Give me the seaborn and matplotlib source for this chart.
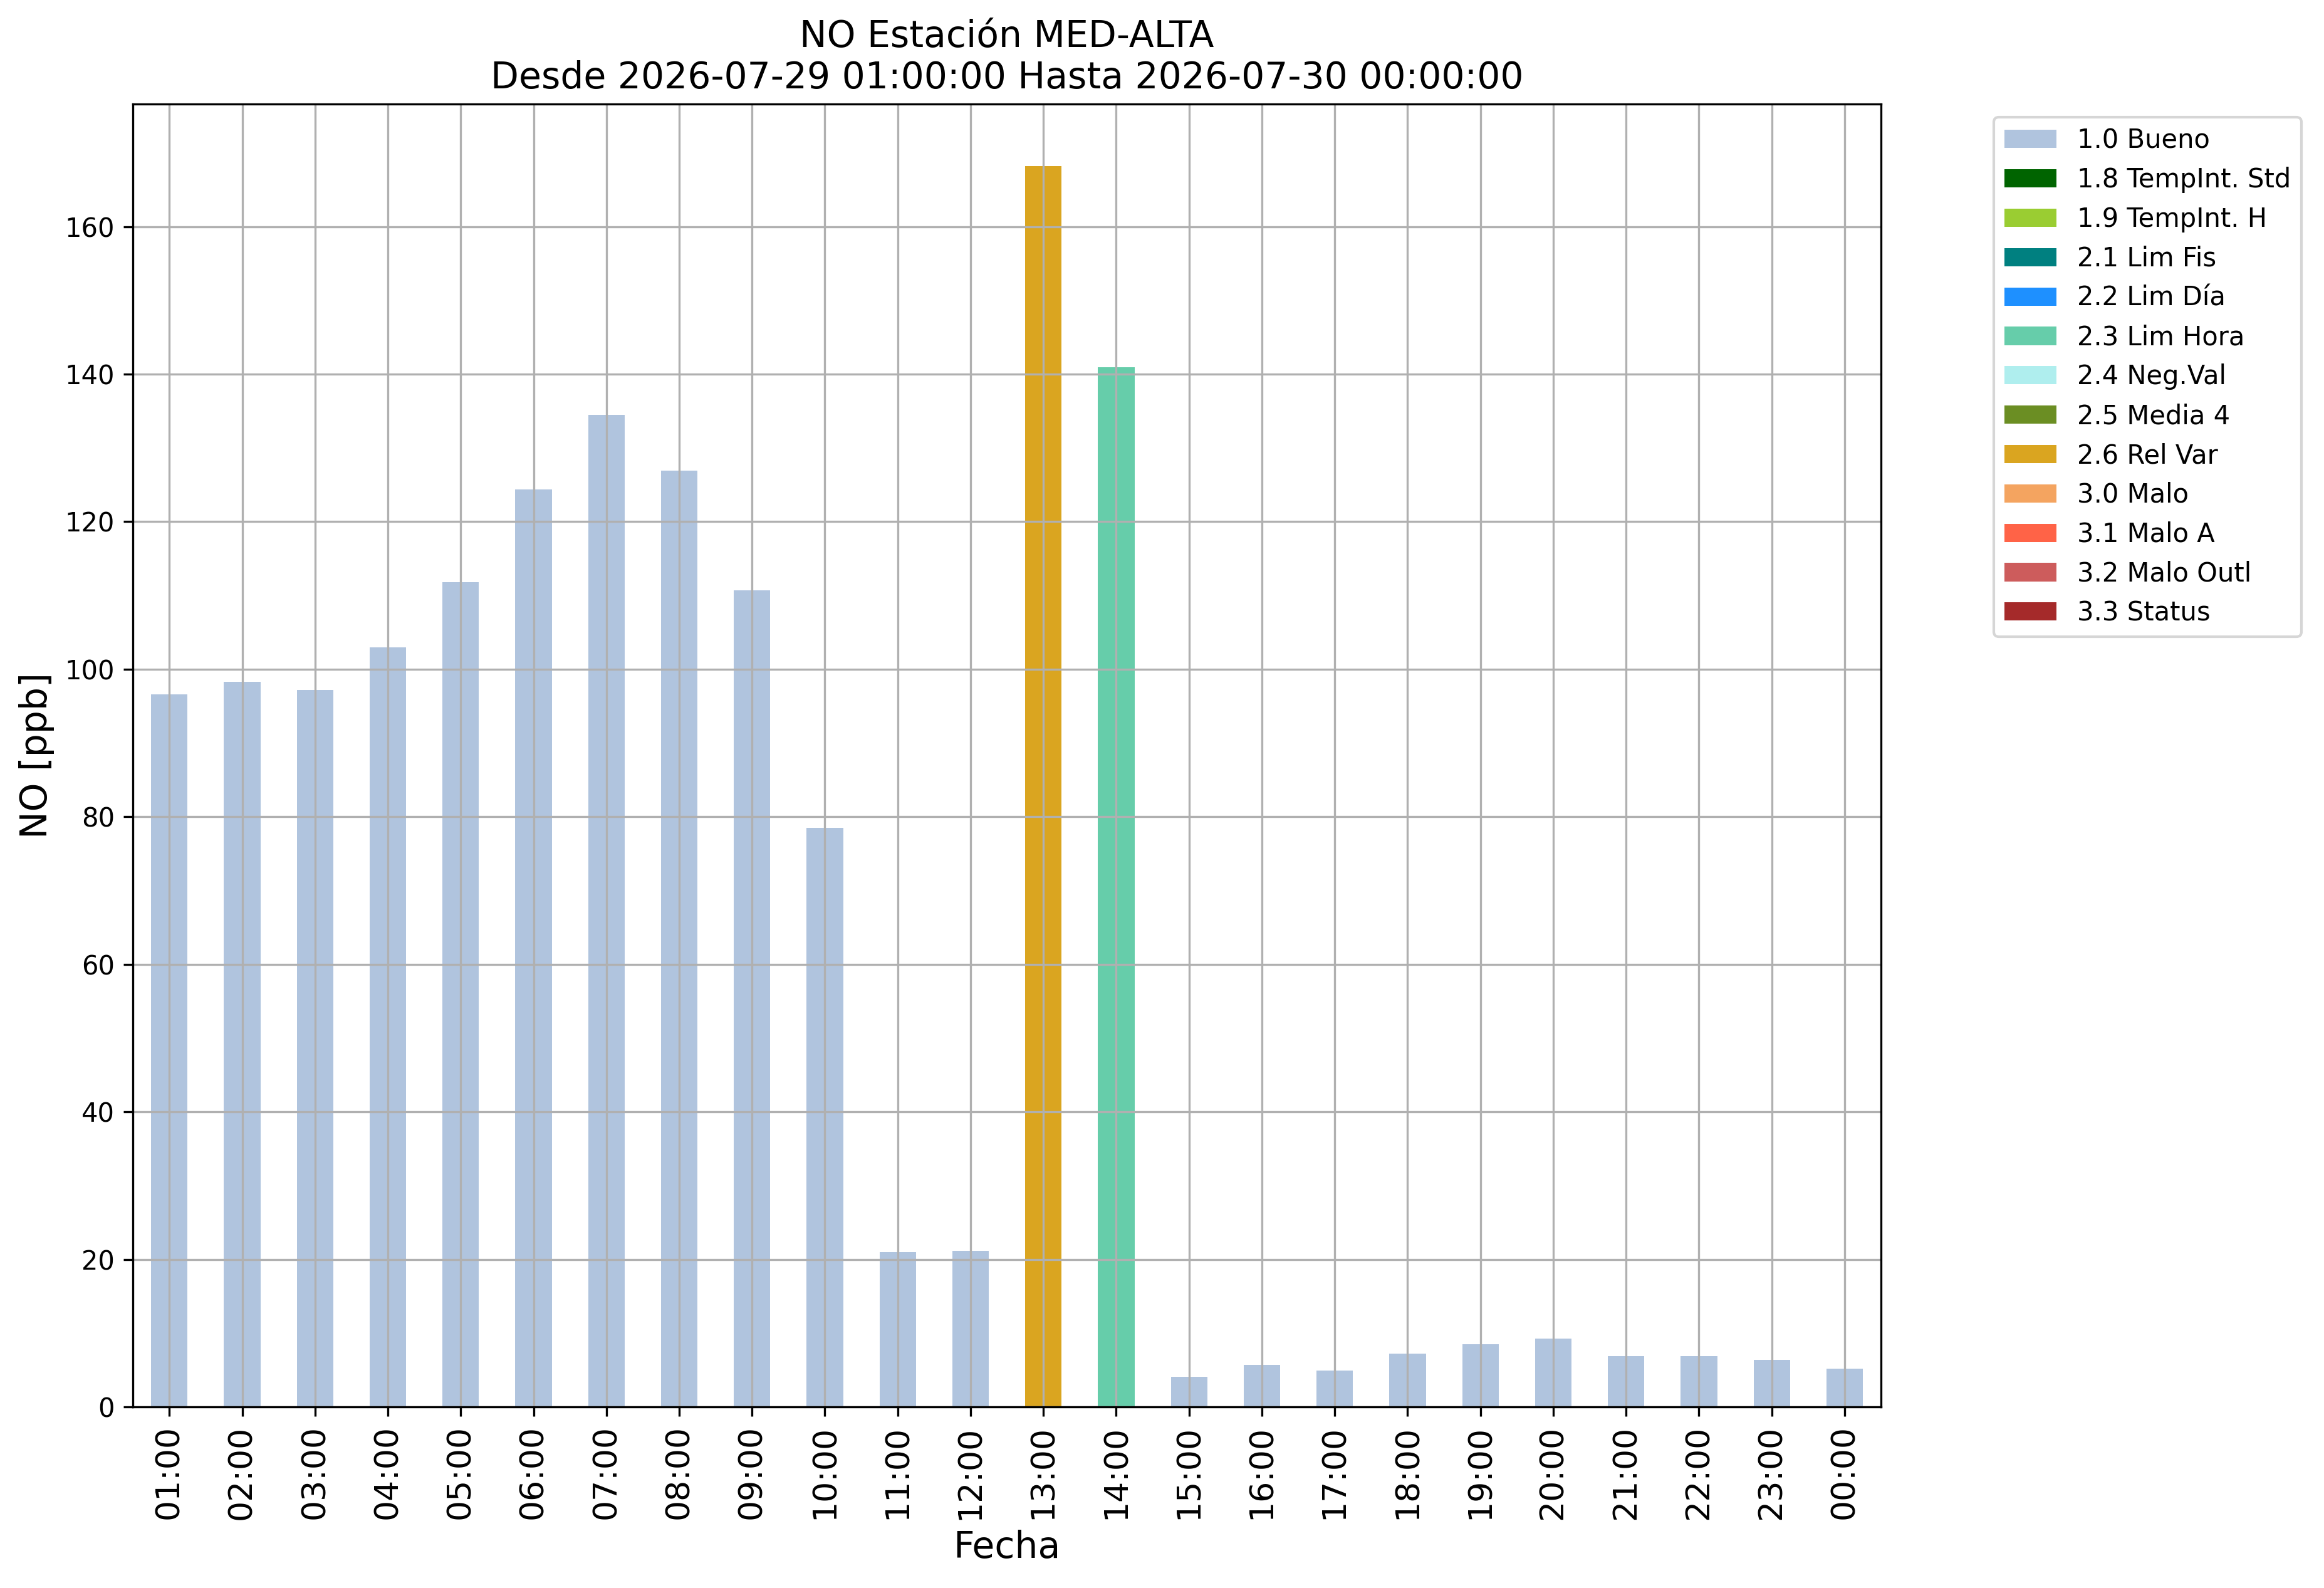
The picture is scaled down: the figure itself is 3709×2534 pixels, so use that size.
import pandas as pd
import seaborn as sns
import matplotlib
matplotlib.use("Agg")
import matplotlib.pyplot as plt
from matplotlib.patches import Patch

# Datos horarios de NO (ppb)
horas = ['01:00', '02:00', '03:00', '04:00', '05:00', '06:00', '07:00', '08:00',
         '09:00', '10:00', '11:00', '12:00', '13:00', '14:00', '15:00', '16:00',
         '17:00', '18:00', '19:00', '20:00', '21:00', '22:00', '23:00', '00:00']
valores = [96.6, 98.3, 97.2, 103.0, 111.8, 124.4, 134.5, 126.9,
           110.7, 78.5, 21.0, 21.2, 168.2, 140.9, 4.1, 5.7,
           4.9, 7.2, 8.5, 9.3, 6.9, 6.9, 6.4, 5.2]
flags = ['1.0 Bueno'] * 12 + ['2.6 Rel Var', '2.3 Lim Hora'] + ['1.0 Bueno'] * 10

# Etiquetas y colores de validación
etiquetas = ['1.0 Bueno', '1.8 TempInt. Std', '1.9 TempInt. H', '2.1 Lim Fis',
             '2.2 Lim Día', '2.3 Lim Hora', '2.4 Neg.Val', '2.5 Media 4',
             '2.6 Rel Var', '3.0 Malo', '3.1 Malo A', '3.2 Malo Outl', '3.3 Status']
colores = ['lightsteelblue', 'darkgreen', 'yellowgreen', 'teal',
           'dodgerblue', 'mediumaquamarine', 'paleturquoise', 'olivedrab',
           'goldenrod', 'sandybrown', 'tomato', 'indianred', 'brown']
paleta = dict(zip(etiquetas, colores))

df = pd.DataFrame({'hora': horas, 'valor': valores, 'flag': flags})

fig, ax = plt.subplots(figsize=(3709 / 300, 2534 / 300), dpi=300)
fig.subplots_adjust(left=0.0572, right=0.8094, top=0.9345, bottom=0.114)

sns.barplot(data=df, x='hora', y='valor', hue='flag', palette=paleta,
            order=horas, dodge=False, width=0.5, saturation=1,
            errorbar=None, legend=False, ax=ax)

ax.set_xlim(-0.5, len(horas) - 0.5)
ax.grid(True)
ax.set_title("NO Estación MED-ALTA\nDesde 2026-07-29 01:00:00 Hasta 2026-07-30 00:00:00",
             fontsize=14)
ax.set_xlabel("Fecha", fontsize=14)
ax.set_ylabel("NO [ppb]", fontsize=14)
ax.tick_params(axis='x', labelsize=12.5, labelrotation=90)
ax.tick_params(axis='y', labelsize=10)

handles = [Patch(facecolor=c, label=e) for e, c in zip(etiquetas, colores)]
ax.legend(handles=handles, bbox_to_anchor=(1.057, 1), loc='upper left', fontsize=10)

plt.savefig("out.png", dpi=300)
